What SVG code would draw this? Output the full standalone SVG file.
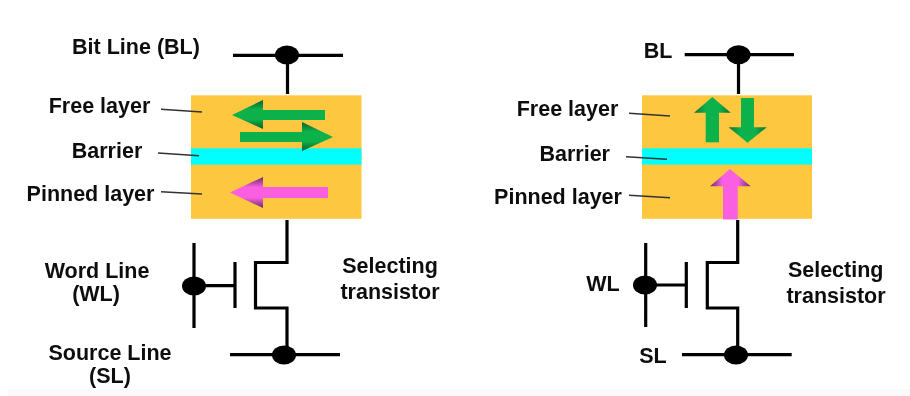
<svg xmlns="http://www.w3.org/2000/svg" width="910" height="396" viewBox="0 0 910 396">
<defs>
<linearGradient id="gv" x1="0" y1="0" x2="0" y2="1"><stop offset="0" stop-color="#0a5e2a"/><stop offset=".33" stop-color="#0db14b"/><stop offset=".67" stop-color="#0db14b"/><stop offset="1" stop-color="#0a5e2a"/></linearGradient>
<linearGradient id="gh" x1="0" y1="0" x2="1" y2="0"><stop offset="0" stop-color="#0a6b32"/><stop offset=".3" stop-color="#0db14b"/><stop offset=".7" stop-color="#0db14b"/><stop offset="1" stop-color="#0a6b32"/></linearGradient>
<linearGradient id="pv" x1="0" y1="0" x2="0" y2="1"><stop offset="0" stop-color="#6b2a6b"/><stop offset=".33" stop-color="#f95fe0"/><stop offset=".67" stop-color="#f95fe0"/><stop offset="1" stop-color="#6b2a6b"/></linearGradient>
<linearGradient id="ph" x1="0" y1="0" x2="1" y2="0"><stop offset="0" stop-color="#6b2a6b"/><stop offset=".3" stop-color="#f95fe0"/><stop offset=".7" stop-color="#f95fe0"/><stop offset="1" stop-color="#6b2a6b"/></linearGradient>
<filter id="soft" x="-5%" y="-5%" width="110%" height="110%"><feGaussianBlur stdDeviation="0.45"/></filter>
</defs>
<style>
text{font-family:"Liberation Sans",Arial,sans-serif;font-weight:700;font-size:21.5px;fill:#111;text-anchor:middle}
.w{fill:none;stroke:#000;stroke-width:3.2}
.l{fill:none;stroke:#333;stroke-width:1.4}
.o{fill:#fec741}
.b{fill:#00ffff}
.sg{fill:#0db14b}
.sp{fill:#f95fe0}
</style>
<rect width="910" height="396" fill="#fff"/>
<rect x="8" y="389" width="902" height="7" fill="#fafafa"/>
<g filter="url(#soft)">
<g id="stack-left">
<rect class="o" x="191" y="95.300" width="170.500" height="123.500"/>
<rect class="b" x="191" y="148.300" width="170.500" height="16.300"/>
<rect class="sg" x="262" y="110" width="63" height="10"/>
<polygon points="232,115 263,100 263,129" fill="url(#gv)"/>
<rect class="sg" x="240" y="132" width="63" height="10"/>
<polygon points="333,137 302,122 302,151" fill="url(#gv)"/>
<rect class="sp" x="262" y="187" width="66" height="11"/>
<polygon points="230,192.500 263,177 263,208" fill="url(#pv)"/>
</g>
<g id="stack-right">
<rect class="o" x="642" y="95.300" width="170" height="123.500"/>
<rect class="b" x="642" y="148.300" width="170" height="16.300"/>
<rect class="sg" x="705.700" y="112" width="13.300" height="30.300"/>
<polygon points="712.300,97 694,112.700 730.700,112.700" fill="url(#gh)"/>
<rect class="sg" x="741" y="98" width="13" height="30"/>
<polygon points="747.500,142.700 728.700,127.300 766.700,127.300" fill="url(#gh)"/>
<rect class="sp" x="723" y="185.500" width="14.700" height="34"/>
<polygon points="730,169 710,186.300 750.700,186.300" fill="url(#ph)"/>
</g>
<g id="connectors">
<path class="w" d="M233 55.300H343M287.500 55V94"/>
<path class="w" d="M287 220V262.500H255.500V308H287V354M194 243V328M235 262V308M194 285.700H235M230 354.700H340"/>
<path class="w" d="M684.700 54.700H794M738.500 55V94"/>
<path class="w" d="M737.700 220V262.500H707.300V308H737.700V354M645.700 243V327M686.300 262V308M645 285H686.300M682 354.700H791.700"/>
<path class="l" d="M161 109.300L202 112M158 153L199 155.700M161 191.700L202 194"/>
<path class="l" d="M629 113.300L670 116M626 156.700L667 159.300M629 195.300L670 197.700"/>
</g>
<g id="junction-bl-left"><ellipse cx="287" cy="55" rx="12" ry="9.500"/></g>
<g id="junction-wl-left"><ellipse cx="194" cy="286" rx="12" ry="9.500"/></g>
<g id="junction-sl-left"><ellipse cx="284" cy="355" rx="12" ry="9.500"/></g>
<g id="junction-bl-right"><ellipse cx="738.500" cy="54.700" rx="12" ry="9.500"/></g>
<g id="junction-wl-right"><ellipse cx="645" cy="285" rx="12" ry="9.500"/></g>
<g id="junction-sl-right"><ellipse cx="736" cy="355" rx="12" ry="9.500"/></g>
<g id="labels-left">
<text x="136" y="53.500">Bit Line (BL)</text>
<text x="99.500" y="113">Free layer</text>
<text x="107" y="158">Barrier</text>
<text x="90.500" y="201">Pinned layer</text>
<text x="97" y="278">Word Line</text>
<text x="96" y="301">(WL)</text>
<text x="110" y="360">Source Line</text>
<text x="110" y="383">(SL)</text>
<text x="390" y="273">Selecting</text>
<text x="390" y="299">transistor</text>
</g>
<g id="labels-right">
<text x="658" y="57.500">BL</text>
<text x="567.500" y="116">Free layer</text>
<text x="574.700" y="161">Barrier</text>
<text x="558" y="204">Pinned layer</text>
<text x="603" y="291">WL</text>
<text x="653" y="363">SL</text>
<text x="835.700" y="277">Selecting</text>
<text x="836" y="303">transistor</text>
</g>
</g>
</svg>
